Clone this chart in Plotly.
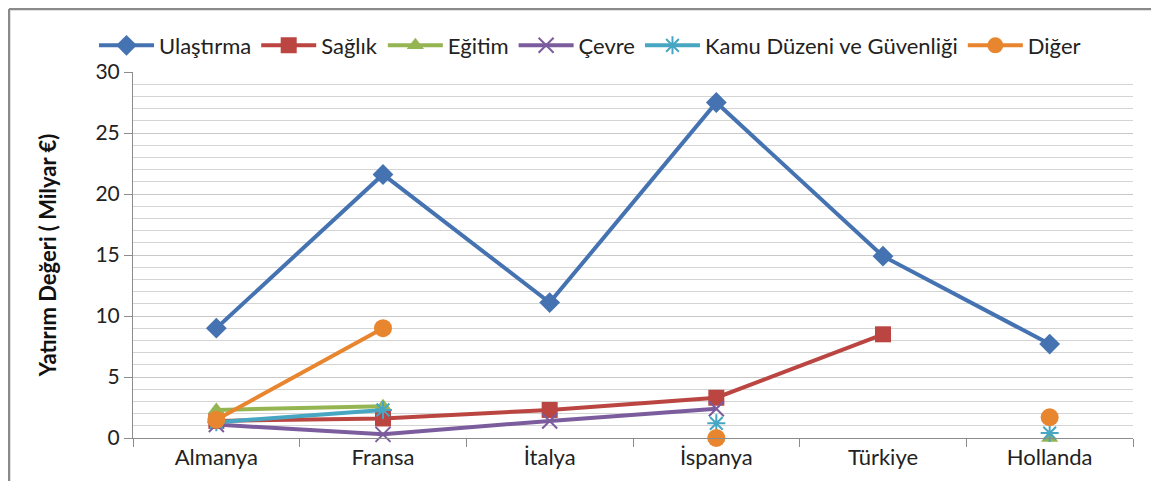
import plotly.graph_objects as go

# categories and series values (Milyar €)
ulkeler = ["Almanya", "Fransa", "İtalya", "İspanya", "Türkiye", "Hollanda"]
ulastirma = [9.0, 21.6, 11.1, 27.5, 14.9, 7.7]
saglik = [1.4, 1.6, 2.3, 3.3, 8.5, None]
egitim = [2.3, 2.6, None, 0.0, None, 0.0]
cevre = [1.1, 0.3, 1.4, 2.4, None, None]
kamu = [1.3, 2.3, None, 1.2, None, 0.4]
diger = [1.5, 9.0, None, 0.0, None, 1.7]

y_ticks = [0, 5, 10, 15, 20, 25, 30]

FONT = "Lato, 'Open Sans', sans-serif"

series = [
    ("Ulaştırma", ulastirma, "#4573B1", "diamond", 16, 0),
    ("Sağlık", saglik, "#BB4541", "square", 16, 0),
    ("Eğitim", egitim, "#95B552", "triangle-up", 15, 0),
    ("Çevre", cevre, "#7B5C9D", "x-thin-open", 15, 2),
    ("Kamu Düzeni ve Güvenliği", kamu, "#47A6C2", "asterisk-open", 15, 2),
    ("Diğer", diger, "#E8852F", "circle", 18, 0),
]

fig = go.Figure()

for name, vals, color, symbol, size, lw in series:
    marker = dict(symbol=symbol, size=size, color=color)
    if lw:
        marker["line"] = dict(color=color, width=lw)
    fig.add_trace(go.Scatter(
        x=ulkeler,
        y=vals,
        name=name,
        mode="lines+markers",
        line=dict(color=color, width=4),
        marker=marker,
        connectgaps=False,
        cliponaxis=False,
    ))

# the page body adds 8px around the figure, margins account for that
fig.update_layout(
    width=1159,
    height=481,
    margin=dict(l=125, r=34, t=64, b=51),
    plot_bgcolor="white",
    paper_bgcolor="white",
    font=dict(family=FONT, size=22, color="#222222"),
    showlegend=True,
    legend=dict(
        orientation="h",
        x=0.457, xanchor="center",
        y=1.015, yanchor="bottom",
        font=dict(size=22, color="#222222"),
        bgcolor="rgba(0,0,0,0)",
        itemwidth=55,
        tracegroupgap=0,
    ),
)

fig.update_xaxes(
    type="category",
    range=[-0.5, len(ulkeler) - 0.5],
    showgrid=False,
    showline=True,
    linecolor="#8c8c8c",
    linewidth=1,
    ticks="outside",
    tickson="boundaries",
    ticklen=8,
    tickcolor="#8c8c8c",
    tickfont=dict(size=22, color="#222222"),
    mirror=False,
)

fig.update_yaxes(
    range=[0, 30],
    tickvals=y_ticks,
    showgrid=True,
    gridcolor="#c8c8c8",
    gridwidth=1,
    minor=dict(dtick=1, showgrid=True, gridcolor="#d4d4d4", gridwidth=1),
    showline=True,
    linecolor="#8c8c8c",
    linewidth=1,
    ticks="outside",
    ticklen=8,
    tickcolor="#8c8c8c",
    tickfont=dict(size=21, color="#222222"),
    zeroline=False,
    title=dict(
        text="<b>Yatırım Değeri ( Milyar €)</b>",
        font=dict(size=22, color="#111111"),
        standoff=32,
    ),
)

# outer chart frame (top and left edges visible in the reference)
fx = -124 / 1000
fy = 429 / 366
fig.add_shape(type="line", xref="paper", yref="paper",
              x0=fx, x1=1.2, y0=fy, y1=fy,
              line=dict(color="#8a8a8a", width=2.5))
fig.add_shape(type="line", xref="paper", yref="paper",
              x0=fx, x1=fx, y0=-0.3, y1=fy,
              line=dict(color="#8a8a8a", width=2.5))

fig.write_html("out.html")
